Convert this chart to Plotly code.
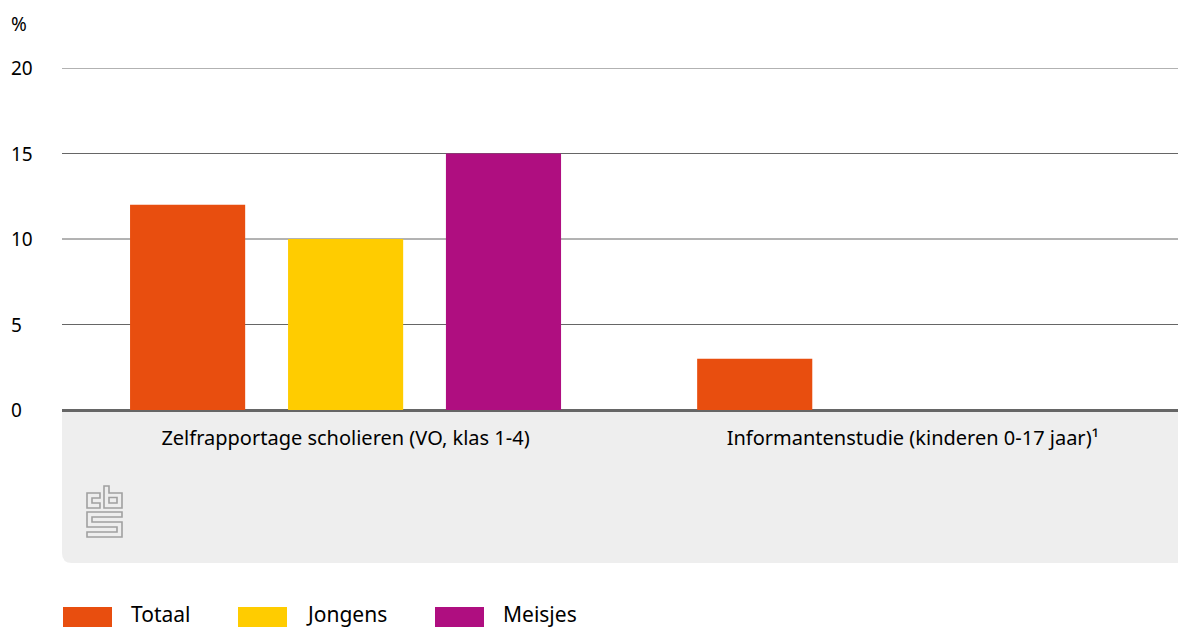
import plotly.graph_objects as go

categories = ["Zelfrapportage scholieren (VO, klas 1-4)", "Informantenstudie (kinderen 0-17 jaar)¹"]
series_names = ["Totaal", "Jongens", "Meisjes"]
totaal = [12, 3]
jongens = [10, None]
meisjes = [15, None]
y_ticks = [0, 5, 10, 15, 20]
colors = ["#e84e0f", "#ffcc00", "#af0e80"]

# page has an 8px body margin; work in page pixels and convert
OFF = 8
PAGE_W, PAGE_H = 1186, 630
W, H = PAGE_W - OFF, PAGE_H - OFF
PLOT_L, PLOT_T, PLOT_B = 62, 68, 410  # page pixels
ML, MT = PLOT_L - OFF, PLOT_T - OFF
MB = H - (PLOT_B - OFF)
PW = W - ML
PH = H - MT - MB

def px(x):
    return (x - PLOT_L) / PW

def py(y):
    return (PLOT_B - y) / PH

FONT = "Noto Sans"

fig = go.Figure()
values = [totaal, jongens, meisjes]
offsets = [-0.380, -0.1014, 0.177]
for name, vals, col, off in zip(series_names, values, colors, offsets):
    fig.add_trace(go.Bar(
        x=[0, 1], y=vals, name=name, marker=dict(color=col, line=dict(width=0)),
        width=0.203, offset=off, showlegend=False, hoverinfo="skip",
    ))

shapes = []
# gridlines
for t in y_ticks[1:]:
    shapes.append(dict(type="line", xref="paper", yref="y", x0=0, x1=1, y0=t, y1=t,
                       layer="below", line=dict(color="#666666", width=1)))

# grey band below the axis
bx0, bx1 = 0, 1
by0, by1 = py(411), py(563)
rx, ry = 10 / PW, 10 / PH
shapes.append(dict(
    type="path", xref="paper", yref="paper", layer="below",
    path=f"M {bx0},{by0} L {bx0},{by1+ry} Q {bx0},{by1} {bx0+rx},{by1} L {bx1},{by1} L {bx1},{by0} Z",
    fillcolor="#eeeeee", line=dict(width=0),
))

# cbs logo (outline)
def poly(points):
    return "M " + " L ".join(f"{px(a)},{py(b)}" for a, b in points) + " Z"

logo_paths = [
    [(87, 493), (100, 493), (100, 498), (92, 498), (92, 503), (100, 503), (100, 508), (87, 508)],
    [(104, 486), (109, 486), (109, 493), (122, 493), (122, 508), (104, 508)],
    [(109, 497.5), (117, 497.5), (117, 503), (109, 503)],
    [(87, 512), (122, 512), (122, 517), (92, 517), (92, 522), (122, 522), (122, 537),
     (87, 537), (87, 532), (117, 532), (117, 527), (87, 527)],
]
for p in logo_paths:
    shapes.append(dict(type="path", xref="paper", yref="paper", path=poly(p),
                       line=dict(color="#a0a0a0", width=1.6), fillcolor="rgba(0,0,0,0)"))

annotations = []
# y tick labels, left aligned
for t in y_ticks:
    annotations.append(dict(x=px(9), y=t, xref="paper", yref="y", text=str(t),
                            showarrow=False, xanchor="left", yanchor="middle",
                            font=dict(family=FONT, size=19, color="#000")))
annotations.append(dict(x=px(9), y=py(24), xref="paper", yref="paper", text="%",
                        showarrow=False, xanchor="left", yanchor="middle",
                        font=dict(family=FONT, size=19, color="#000")))

# manual legend
leg_x = [63, 238, 435]
for name, col, lx in zip(series_names, colors, leg_x):
    shapes.append(dict(type="rect", xref="paper", yref="paper",
                       x0=px(lx), x1=px(lx + 49), y0=py(607), y1=py(627),
                       fillcolor=col, line=dict(width=0)))
    annotations.append(dict(x=px(lx + 66), y=py(614), xref="paper", yref="paper", text=name,
                            showarrow=False, xanchor="left", yanchor="middle",
                            font=dict(family=FONT, size=21, color="#000")))

fig.update_layout(
    width=W, height=H,
    margin=dict(l=ML, r=0, t=MT, b=MB),
    plot_bgcolor="rgba(0,0,0,0)", paper_bgcolor="white",
    barmode="overlay",
    shapes=shapes, annotations=annotations,
    font=dict(family=FONT, color="#000"),
    xaxis=dict(range=[-0.5, 1.482], tickvals=[0, 1], ticktext=categories,
               showgrid=False, zeroline=False, showline=False, ticks="",
               tickfont=dict(family=FONT, size=20, color="#000"), ticklabelstandoff=14,
               fixedrange=True),
    yaxis=dict(range=[0, 20], tickvals=y_ticks, showticklabels=False,
               showgrid=False,
               zeroline=True, zerolinecolor="#666666", zerolinewidth=3,
               showline=False, ticks="", fixedrange=True),
    showlegend=False,
)

fig.write_html("out.html")
